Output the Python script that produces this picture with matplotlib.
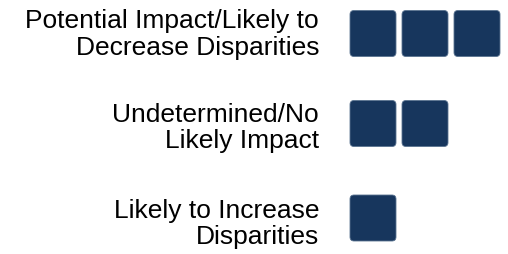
import matplotlib
matplotlib.use("Agg")
import matplotlib.pyplot as plt
from matplotlib.patches import FancyBboxPatch

# Data
categories = [
    "Potential Impact/Likely to\nDecrease Disparities",
    "Undetermined/No\nLikely Impact",
    "Likely to Increase\nDisparities",
]
counts = [3, 2, 1]

# Layout (pixel units)
W, H = 508, 255
row_centers = [34.5, 124.5, 219.0]
text_centers = [34.5, 128.0, 224.0]
label_right = 319
sq_x0 = 350
sq_size = 46
sq_pitch = 52
color = "#17365D"

fig = plt.figure(figsize=(W / 100, H / 100), dpi=100)
ax = fig.add_axes([0, 0, 1, 1])
ax.set_xlim(0, W)
ax.set_ylim(H, 0)
ax.axis("off")

for cat, n, yc, yt in zip(categories, counts, row_centers, text_centers):
    ax.text(label_right, yt, cat, ha="right", va="center", multialignment="right",
            fontsize=19, family=["Liberation Sans", "DejaVu Sans"],
            color="black", linespacing=1.12)
    for j in range(n):
        x = sq_x0 + j * sq_pitch
        p = FancyBboxPatch((x, yc - sq_size / 2), sq_size, sq_size,
                           boxstyle="round,pad=0,rounding_size=4",
                           facecolor=color, edgecolor="#5a7390", linewidth=0.6)
        ax.add_patch(p)

fig.savefig("out.png", dpi=100)
